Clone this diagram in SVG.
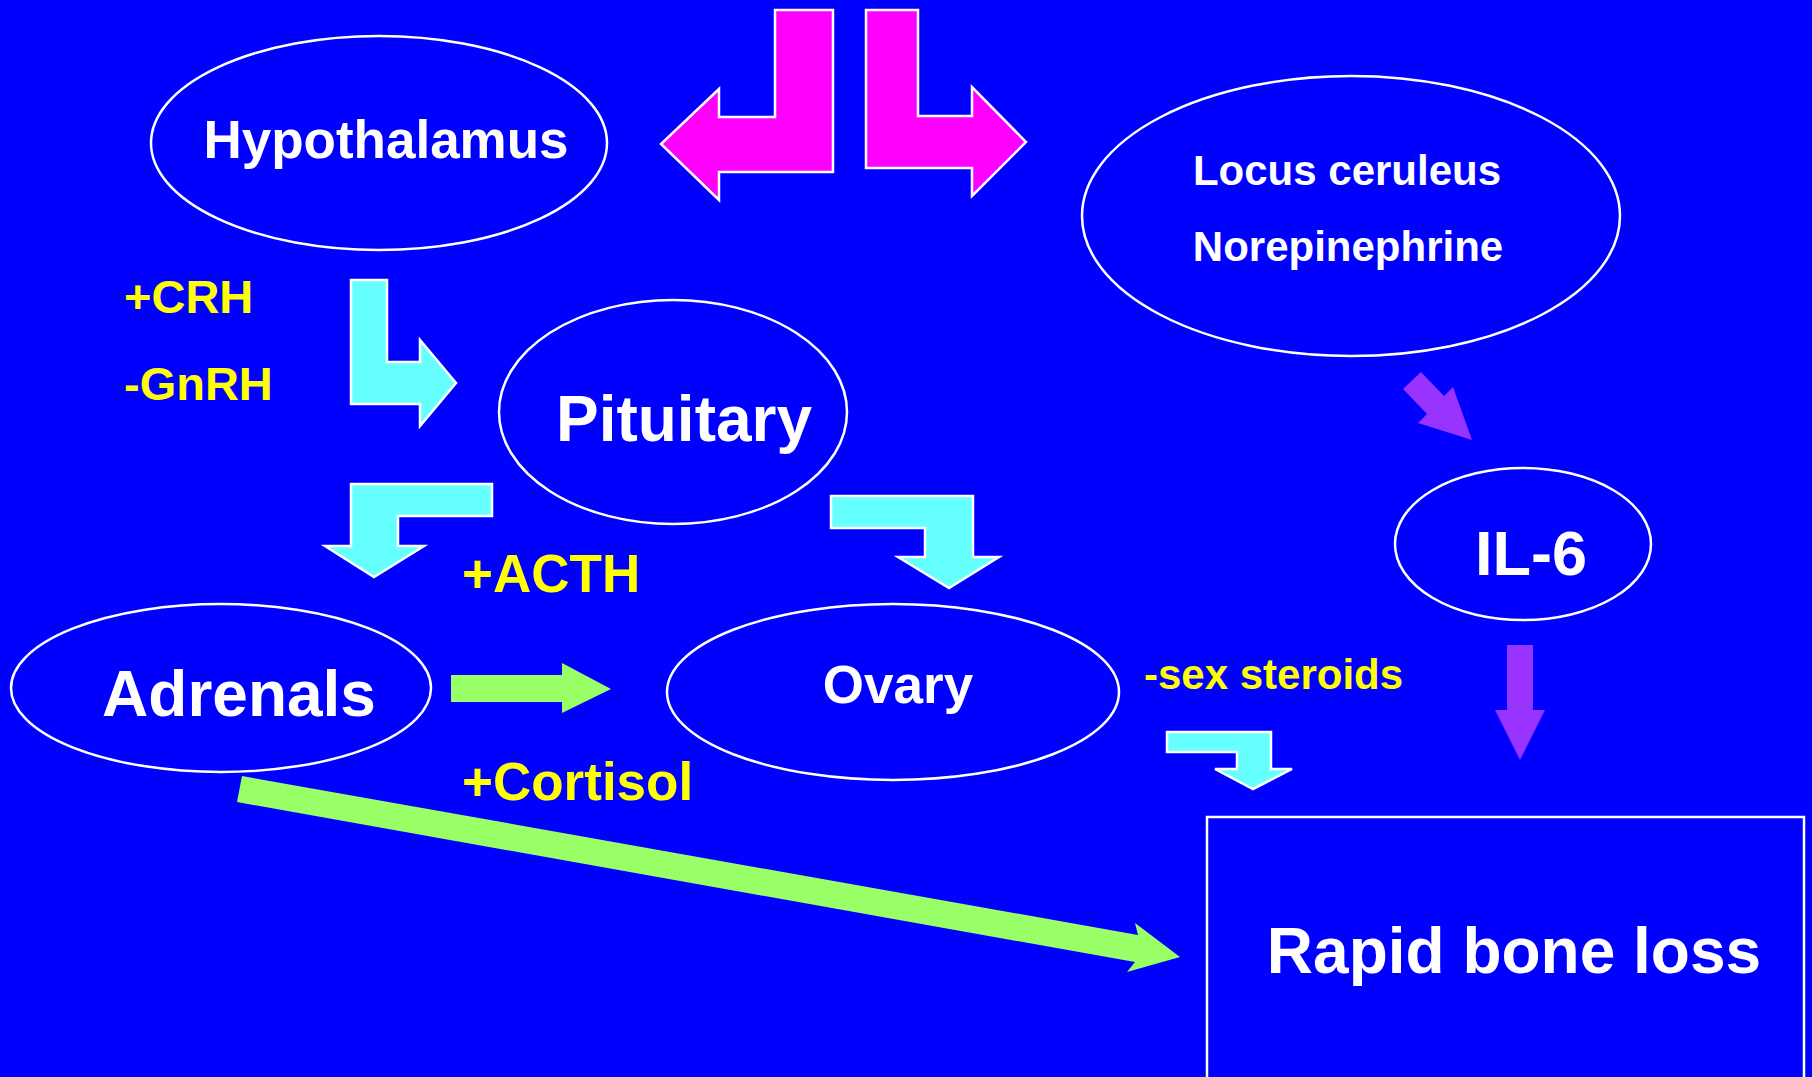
<svg xmlns="http://www.w3.org/2000/svg" width="1812" height="1077" viewBox="0 0 1812 1077">
<style>
.node{fill:none;stroke:#fff;stroke-width:2.5}
.t{font-family:"Liberation Sans",Arial,sans-serif;font-weight:bold;fill:#fff}
.y{font-family:"Liberation Sans",Arial,sans-serif;font-weight:bold;fill:#ffff00}
.pink{fill:#ff00ff;stroke:#fff;stroke-width:2.5}
.cyan{fill:#66ffff;stroke:#fff;stroke-width:2.5}
.green{fill:#99ff66}
.purple{fill:#9933ff}
</style>
<rect width="1812" height="1077" fill="#0000ff"/>
<g id="connectors">
<polygon class="pink" points="775,10 833,10 833,172 719,172 719,200 661,144 719,89 719,117 775,117"/>
<polygon class="pink" points="866,10 918,10 918,116 972,116 972,87 1026,142 972,196 972,168 866,168"/>
<polygon class="cyan" points="351,280 387,280 387,362 420,362 420,340 456,383 420,426 420,404 351,404"/>
<polygon class="cyan" points="492,484 492,516 398,516 398,546 424,546 374,577 325,546 351,546 351,484"/>
<polygon class="cyan" points="831,496 973,496 973,557 999,557 949,588 898,557 925,557 925,528 831,528"/>
<polygon class="cyan" points="1167,732 1271,732 1271,769 1292,769 1253,789 1215,769 1237,769 1237,752 1167,752"/>
<polygon class="purple" points="1421,372 1444,396 1453,387 1472,440 1418,423 1427,414 1403,389"/>
<polygon class="purple" points="1507,645 1533,645 1533,710 1545,710 1520,760 1495,710 1507,710"/>
<polygon class="green" points="451,675 562,675 562,663 611,689 562,713 562,702 451,702"/>
<polygon class="green" points="242,776 1138,935 1135,923 1180,957 1127,972 1135,962 237,802"/>
</g>
<g id="hypothalamus">
<ellipse class="node" cx="379" cy="143" rx="228" ry="107"/>
<text class="t" x="386" y="158" font-size="53" text-anchor="middle">Hypothalamus</text>
</g>
<g id="pituitary">
<ellipse class="node" cx="673" cy="412" rx="174" ry="112"/>
<text class="t" x="684" y="441" font-size="64" text-anchor="middle">Pituitary</text>
</g>
<g id="locus">
<ellipse class="node" cx="1351" cy="216" rx="269" ry="140"/>
<text class="t" x="1347" y="185" font-size="42" text-anchor="middle">Locus ceruleus</text>
<text class="t" x="1348" y="261" font-size="42" text-anchor="middle">Norepinephrine</text>
</g>
<g id="il6">
<ellipse class="node" cx="1523" cy="544" rx="128" ry="76"/>
<text class="t" x="1531" y="575" font-size="63" text-anchor="middle">IL-6</text>
</g>
<g id="adrenals">
<ellipse class="node" cx="221" cy="688" rx="210" ry="84"/>
<text class="t" x="239" y="716" font-size="64" text-anchor="middle">Adrenals</text>
</g>
<g id="ovary">
<ellipse class="node" cx="893" cy="692" rx="226" ry="88"/>
<text class="t" x="898" y="703" font-size="53" text-anchor="middle">Ovary</text>
</g>
<g id="bone">
<rect class="node" x="1207" y="817" width="597" height="280"/>
<text class="t" x="1514" y="973" font-size="64" text-anchor="middle">Rapid bone loss</text>
</g>
<g id="labels">
<text class="y" x="124" y="313" font-size="47">+CRH</text>
<text class="y" x="124" y="400" font-size="47">-GnRH</text>
<text class="y" x="462" y="592" font-size="53">+ACTH</text>
<text class="y" x="462" y="800" font-size="53">+Cortisol</text>
<text class="y" x="1144" y="689" font-size="42">-sex steroids</text>
</g>
</svg>
